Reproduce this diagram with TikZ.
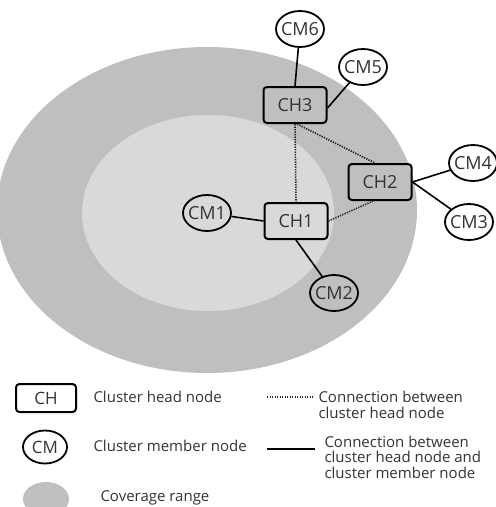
\documentclass[tikz,border=0pt]{standalone}
\usepackage{fontspec}
\setmainfont{Open Sans}
\usetikzlibrary{calc,shapes.geometric}

\definecolor{outerrange}{HTML}{BFBFBF}
\definecolor{innerrange}{HTML}{D9D9D9}
\definecolor{labelgray}{HTML}{333333}

\begin{document}
\begin{tikzpicture}[x=1pt, y=-1pt,
    every node/.style={font=\fontsize{18}{20}\selectfont, text=labelgray},
    chnode/.style={draw, line width=2pt, rounded corners=3.5pt,
                   minimum width=63pt, minimum height=36pt, inner sep=0pt},
    cmnode/.style={draw, ellipse, line width=1.8pt, minimum width=48pt,
                   minimum height=36pt, inner sep=-2pt},
    memberlink/.style={line width=1.6pt},
    headlink/.style={line width=1.6pt, dash pattern=on 1.3pt off 1.2pt, black!85},
    legtext/.style={anchor=west, font=\fontsize{15}{15.5}\selectfont, align=left}]
    \useasboundingbox (0,0) rectangle (496,507);
    \clip (0,0) rectangle (496,507); % page edge cuts the range

    % coverage range
    \fill[outerrange] (207,210) ellipse [x radius=210, y radius=163];
    \fill[innerrange] (208,213) ellipse [x radius=126, y radius=98];

    % cluster heads
    \node[chnode] (ch1) at (296,221) {CH1};
    \node[chnode] (ch2) at (380,182) {CH2};
    \node[chnode] (ch3) at (295,105) {CH3};

    % cluster members
    \node[cmnode] (cm1) at (207,213) {CM1};
    \node[cmnode] (cm2) at (334,293) {CM2};
    \node[cmnode] (cm3) at (469,222) {CM3};
    \node[cmnode] (cm4) at (473,163) {CM4};
    \node[cmnode] (cm5) at (363,67) {CM5};
    \node[cmnode] (cm6) at (300,29) {CM6};

    % head to head
    \draw[headlink] (ch3.south) -- (ch1.north);
    \draw[headlink] ([xshift=2pt]ch3.south) -- ([xshift=-5pt]ch2.north);
    \draw[headlink] (ch1.east) -- ([xshift=-7pt]ch2.south);

    % head to member
    \draw[memberlink] (cm1) -- (ch1.west);
    \draw[memberlink] (ch1.south) -- (cm2);
    \draw[memberlink] (ch2.east) -- (cm3);
    \draw[memberlink] (ch2.east) -- (cm4);
    \draw[memberlink] ([yshift=-3pt]ch3.east) -- (cm5);
    \draw[memberlink] (ch3.north) -- (cm6);

    % legend
    \node[chnode, minimum width=60pt, minimum height=28pt,
          font=\fontsize{17}{19}\selectfont] (legch) at (46,398) {CH};
    \node[cmnode, minimum width=44pt, minimum height=33pt,
          font=\fontsize{17}{19}\selectfont] (legcm) at (45,447) {CM};
    \fill[outerrange] (46,499) ellipse [x radius=23, y radius=17];
    \node[legtext] (txtch) at (90,397) {Cluster head node};
    \node[legtext] (txtcm) at (90,446) {Cluster member node};
    \node[legtext] (txtcov) at (97,498) {Coverage range};

    \coordinate (dotA) at (267,397);
    \coordinate (dotB) at (313,397);
    \coordinate (lineA) at (267,449);
    \coordinate (lineB) at (315,449);
    \draw[headlink] (dotA) -- (dotB);
    \draw[memberlink] (lineA) -- (lineB);
    \node[legtext] (txthh) at (315,405)
        {Connection between\\cluster head node};
    \node[legtext] (txthm) at (321,457)
        {Connection between\\cluster head node and\\cluster member node};
\end{tikzpicture}
\end{document}
